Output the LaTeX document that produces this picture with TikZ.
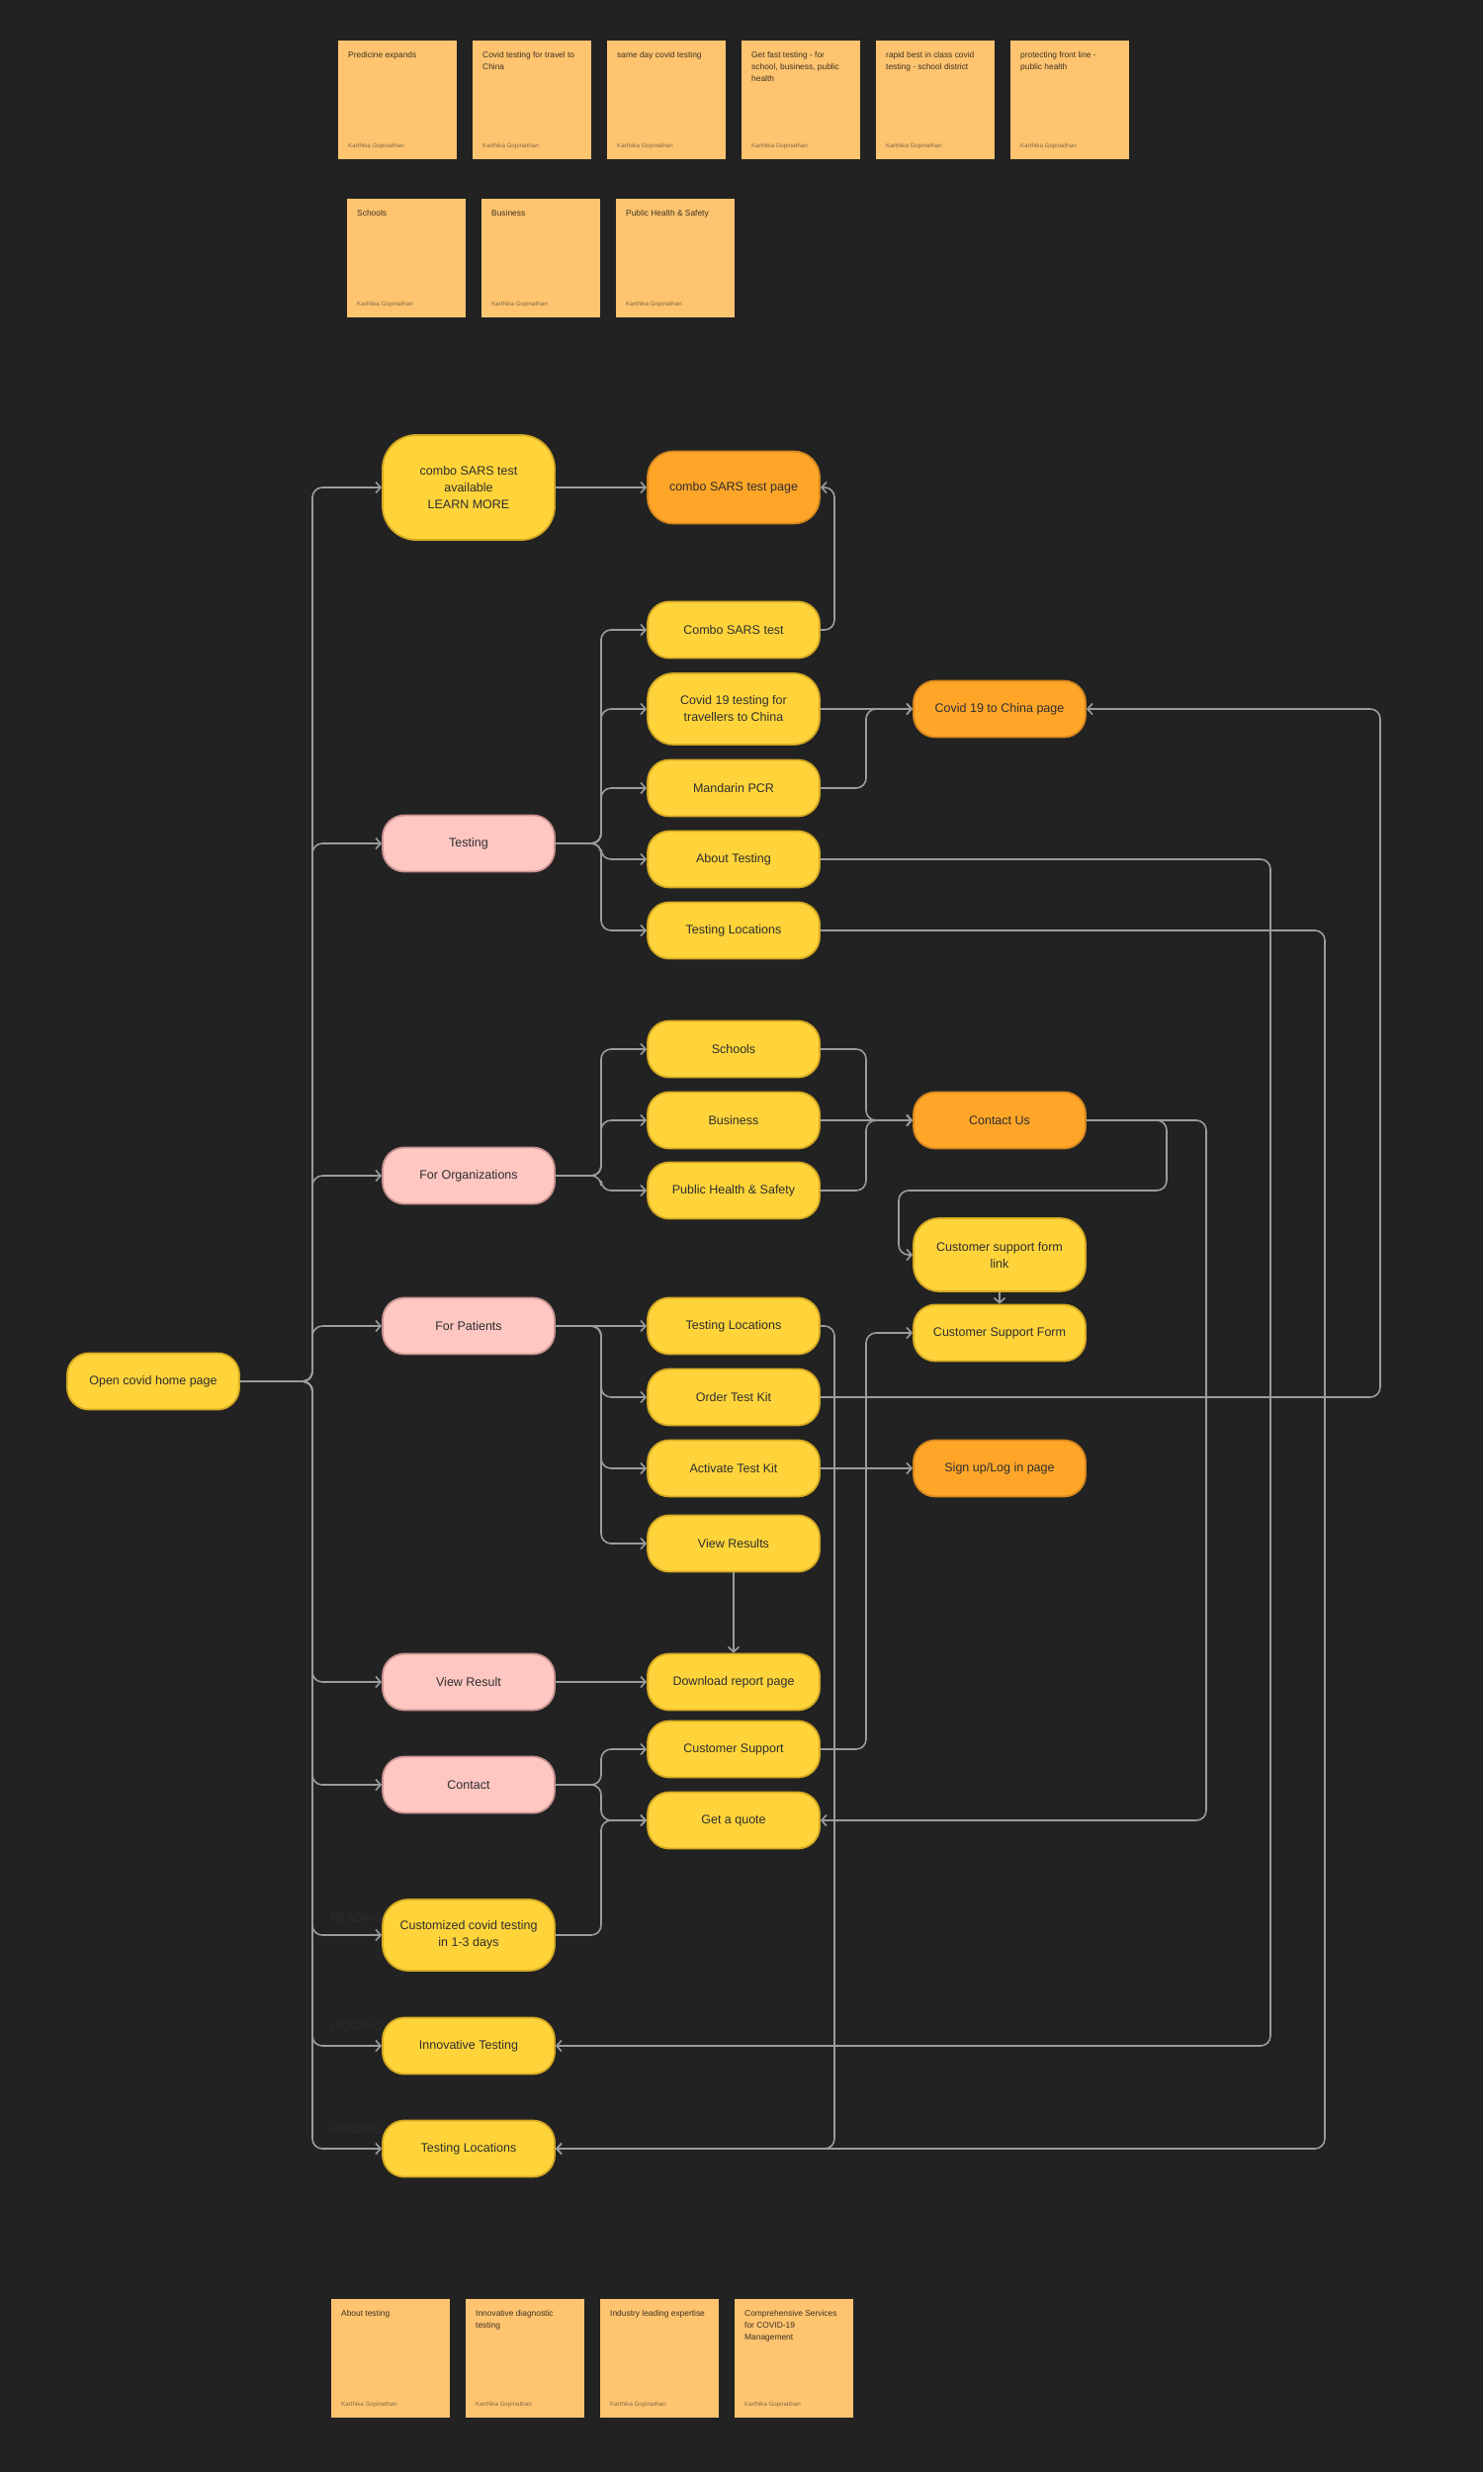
\documentclass[tikz,border=0pt]{standalone}
\usepackage{fontspec}
\setmainfont{Liberation Sans}
\usetikzlibrary{arrows.meta}
\definecolor{bg}{HTML}{222222}
\definecolor{yel}{HTML}{FFD43A}
\definecolor{yelb}{HTML}{D4A922}
\definecolor{pnk}{HTML}{FFC7C2}
\definecolor{pnkb}{HTML}{C99390}
\definecolor{org}{HTML}{FFA629}
\definecolor{orgb}{HTML}{D4861F}
\definecolor{stk}{HTML}{FFC470}
\definecolor{ln}{HTML}{9C9C9C}
\definecolor{txt}{HTML}{2E2E2E}
\definecolor{stxt}{HTML}{3B3222}
\definecolor{sauthc}{HTML}{7D6A48}
\definecolor{faint}{HTML}{2C2C2C}
\tikzset{
 box/.style={rectangle, rounded corners=22pt, minimum width=174pt, minimum height=57pt, line width=1.8pt, align=center, text=txt, font=\fontsize{12.5}{17}\selectfont, inner sep=2pt},
 ybox/.style={box, fill=yel, draw=yelb},
 pbox/.style={box, fill=pnk, draw=pnkb},
 obox/.style={box, fill=org, draw=orgb},
 conn/.style={draw=ln, line width=1.6pt, rounded corners=10pt, -{Straight Barb[length=5pt,width=11pt,line width=1.6pt]}},
 sticky/.style={rectangle, fill=stk, minimum width=120pt, minimum height=120pt, anchor=north west, inner sep=0pt},
 stext/.style={anchor=north west, align=left, font=\fontsize{8.4}{12}\selectfont, text=stxt, inner sep=0pt},
 sauth/.style={anchor=west, font=\fontsize{6.2}{7}\selectfont, text=sauthc, inner sep=0pt},
 headlbl/.style={font=\fontsize{11.4}{13}\selectfont, text=faint, inner sep=0pt}
}
\newcommand{\stickynote}[4]{%
  \node[sticky] (#1) at (#2,#3) {};
  \node[stext] (#1-t) at ([xshift=10pt,yshift=-11pt]#1.north west) {#4};
  \node[sauth] (#1-a) at ([xshift=10pt,yshift=14pt]#1.south west) {Karthika Gopinathan};
}
\begin{document}
\begin{tikzpicture}[x=1pt,y=-1pt]
\fill[bg] (0,0) rectangle (1500,2500);
\useasboundingbox (0,0) rectangle (1500,2500);

% sticky notes
\stickynote{s1}{342}{41}{Predicine expands}
\stickynote{s2}{478}{41}{Covid testing for travel to\\China}
\stickynote{s3}{614}{41}{same day covid testing}
\stickynote{s4}{750}{41}{Get fast testing - for\\school, business, public\\health}
\stickynote{s5}{886}{41}{rapid best in class covid\\testing - school district}
\stickynote{s6}{1022}{41}{protecting front line -\\public health}
\stickynote{s7}{351}{201}{Schools}
\stickynote{s8}{487}{201}{Business}
\stickynote{s9}{623}{201}{Public Health \& Safety}
\stickynote{s10}{335}{2325}{About testing}
\stickynote{s11}{471}{2325}{Innovative diagnostic\\testing}
\stickynote{s12}{607}{2325}{Industry leading expertise}
\stickynote{s13}{743}{2325}{Comprehensive Services\\for COVID-19\\Management}

% faint headings
\node[headlbl] (h1) at (361,1940) {HEADING};
\node[headlbl] (h2) at (361,2050) {HEADING};
\node[headlbl] (h3) at (361,2154) {HEADING};

% nodes
\node[ybox] (home) at (155,1397) {Open covid home page};

\node[ybox, minimum height=106pt, rounded corners=34pt] (csa) at (474,493) {combo SARS test\\available\\LEARN MORE};
\node[pbox] (testing) at (474,853) {Testing};
\node[pbox] (forg) at (474,1189) {For Organizations};
\node[pbox] (fpat) at (474,1341) {For Patients};
\node[pbox] (vres) at (474,1701) {View Result};
\node[pbox] (contact) at (474,1805) {Contact};
\node[ybox, minimum height=72pt, rounded corners=26pt] (custom) at (474,1957) {Customized covid testing\\in 1-3 days};
\node[ybox] (innov) at (474,2069) {Innovative Testing};
\node[ybox] (tloc) at (474,2173) {Testing Locations};

\node[obox, minimum height=73pt, rounded corners=26pt] (csp) at (742,493) {combo SARS test page};
\node[ybox] (cst) at (742,637) {Combo SARS test};
\node[ybox, minimum height=72pt, rounded corners=26pt] (c19t) at (742,717) {Covid 19 testing for\\travellers to China};
\node[ybox] (mpcr) at (742,797) {Mandarin PCR};
\node[ybox] (abt) at (742,869) {About Testing};
\node[ybox] (tl1) at (742,941) {Testing Locations};
\node[ybox] (schools) at (742,1061) {Schools};
\node[ybox] (business) at (742,1133) {Business};
\node[ybox] (phs) at (742,1204) {Public Health \& Safety};
\node[ybox] (tl2) at (742,1341) {Testing Locations};
\node[ybox] (otk) at (742,1413) {Order Test Kit};
\node[ybox] (atk) at (742,1485) {Activate Test Kit};
\node[ybox] (vrs) at (742,1561) {View Results};
\node[ybox] (dl) at (742,1701) {Download report page};
\node[ybox] (csup) at (742,1769) {Customer Support};
\node[ybox] (quote) at (742,1841) {Get a quote};

\node[obox] (china) at (1011,717) {Covid 19 to China page};
\node[obox] (cus) at (1011,1133) {Contact Us};
\node[ybox, minimum height=74pt, rounded corners=26pt] (csfl) at (1011,1269) {Customer support form\\link};
\node[ybox] (csf) at (1011,1348) {Customer Support Form};
\node[obox] (signup) at (1011,1485) {Sign up/Log in page};

% connectors from home
\foreach \t in {csa,testing,forg,fpat,vres,contact,custom,innov,tloc}
  \draw[conn] (home.east) -- (316,1397) |- (\t.west);

% testing branch
\foreach \t in {cst,c19t,mpcr,abt,tl1}
  \draw[conn] (testing.east) -- (608,853) |- (\t.west);
% organisations
\foreach \t in {schools,business,phs}
  \draw[conn] (forg.east) -- (608,1189) |- (\t.west);
% patients
\draw[conn] (fpat.east) -- (tl2.west);
\foreach \t in {otk,atk,vrs}
  \draw[conn] (fpat.east) -- (608,1341) |- (\t.west);
% contact
\foreach \t in {csup,quote}
  \draw[conn] (contact.east) -- (608,1805) |- (\t.west);
\draw[conn] (custom.east) -- (608,1957) |- (quote.west);
\draw[conn] (vres.east) -- (dl.west);
\draw[conn] (csa.east) -- (csp.west);

% to pages
\draw[conn] (cst.east) -- (844,637) |- (csp.east);
\draw[conn] (c19t.east) -- (china.west);
\draw[conn] (mpcr.east) -- (876,797) |- (china.west);
\draw[conn] (otk.east) -- (1396,1413) |- (china.east);
\draw[conn] (abt.east) -- (1285,869) |- (innov.east);
\draw[conn] (tl1.east) -- (1340,941) |- (tloc.east);
\draw[conn] (schools.east) -- (876,1061) |- (cus.west);
\draw[conn] (business.east) -- (cus.west);
\draw[conn] (phs.east) -- (876,1204) |- (cus.west);
\draw[conn] (cus.east) -- (1180,1133) -- (1180,1204) -- (909,1204) |- (csfl.west);
\draw[conn] (cus.east) -- (1220,1133) |- (quote.east);
\draw[conn] (csfl.south) -- (csf.north);
\draw[conn] (csup.east) -- (876,1769) |- (csf.west);
\draw[conn] (atk.east) -- (signup.west);
\draw[conn] (vrs.south) -- (dl.north);
\draw[conn] (tl2.east) -- (844,1341) |- (tloc.east);
\end{tikzpicture}
\end{document}
